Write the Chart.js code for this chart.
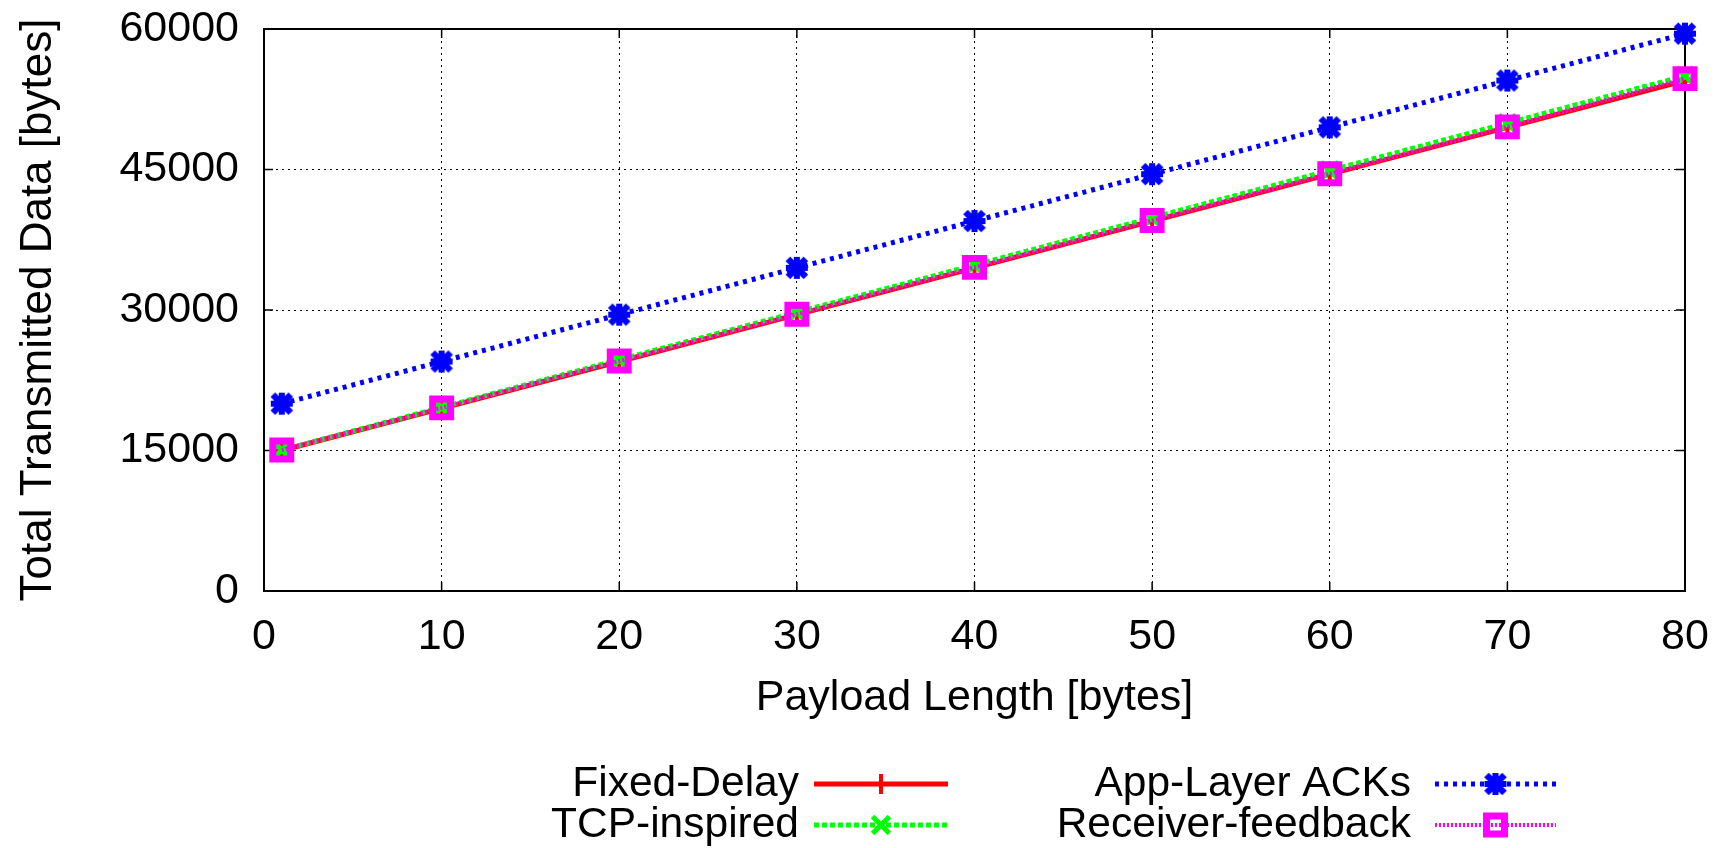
<!DOCTYPE html>
<html><head><meta charset="utf-8">
<script src="https://cdn.jsdelivr.net/npm/chart.js@4"></script>
<style>html,body{margin:0;padding:0;background:#fff}#wrap{width:1724px;height:848px;position:relative}</style>
</head><body><div id="wrap"><canvas id="c" width="1724" height="848"></canvas></div>
<script>
const payloadLength = [1, 10, 20, 30, 40, 50, 60, 70, 80];
const fixedDelay = [15000, 19500, 24500, 29500, 34500, 39500, 44500, 49500, 54500];
const tcpInspired = [15050, 19600, 24700, 29750, 34800, 39850, 44900, 49950, 55000];
const appLayerAcks = [20000, 24500, 29500, 34500, 39500, 44500, 49500, 54500, 59500];
const receiverFeedback = [15050, 19550, 24550, 29550, 34550, 39550, 44550, 49550, 54700];
const xTicks = [0, 10, 20, 30, 40, 50, 60, 70, 80];
const yTicks = [0, 15000, 30000, 45000, 60000];
const seriesNames = ['Fixed-Delay', 'TCP-inspired', 'App-Layer ACKs', 'Receiver-feedback'];

const FONT = "'Liberation Sans', Arial, Helvetica, sans-serif";
const FS = 43;

// gnuplot-like "star" marker (+ overlaid with x)
function makeStar(color) {
  const c = document.createElement('canvas');
  c.width = 32; c.height = 32;
  const g = c.getContext('2d');
  g.strokeStyle = color;
  g.lineCap = 'butt';
  g.lineWidth = 6;
  g.beginPath();
  g.moveTo(16 - 11, 16); g.lineTo(16 + 11, 16);
  g.moveTo(16, 16 - 11); g.lineTo(16, 16 + 11);
  g.stroke();
  g.lineWidth = 6.5;
  g.beginPath();
  g.moveTo(16 - 9, 16 - 9); g.lineTo(16 + 9, 16 + 9);
  g.moveTo(16 - 9, 16 + 9); g.lineTo(16 + 9, 16 - 9);
  g.stroke();
  return c;
}
const starImg = makeStar('#0000ff');

const styles = [
  {color: '#ff0000', dash: [], width: 5, marker: 'cross', r: 10, mw: 4},
  {color: '#00ff00', dash: [5, 3], width: 5, marker: 'crossRot', r: 12, mw: 5},
  {color: '#0000ff', dash: [4, 5], width: 5, marker: starImg, r: 11, mw: 5},
  {color: '#ff00ff', dash: [2, 2], width: 4, marker: 'rect', r: 12.7, mw: 7}
];
const seriesData = [fixedDelay, tcpInspired, appLayerAcks, receiverFeedback];

function pts(arr) { return payloadLength.map((x, i) => ({x: x, y: arr[i]})); }

function drawMarker(ctx, type, x, y, r, color, w) {
  ctx.save();
  if (typeof type !== 'string') {
    ctx.drawImage(type, x - type.width / 2, y - type.height / 2);
    ctx.restore();
    return;
  }
  ctx.strokeStyle = color; ctx.lineWidth = w; ctx.setLineDash([]);
  ctx.beginPath();
  if (type === 'cross') {
    ctx.moveTo(x - r, y); ctx.lineTo(x + r, y);
    ctx.moveTo(x, y - r); ctx.lineTo(x, y + r);
  }
  if (type === 'crossRot') {
    const d = r * Math.SQRT1_2;
    ctx.moveTo(x - d, y - d); ctx.lineTo(x + d, y + d);
    ctx.moveTo(x - d, y + d); ctx.lineTo(x + d, y - d);
  }
  if (type === 'rect') {
    const s = r * Math.SQRT1_2;
    ctx.rect(x - s, y - s, 2 * s, 2 * s);
  }
  ctx.stroke();
  ctx.restore();
}

const framePlugin = {
  id: 'frame',
  beforeDatasetsDraw(chart) {
    const {ctx, chartArea: a, scales} = chart;
    ctx.save();
    ctx.strokeStyle = '#000'; ctx.lineWidth = 2; ctx.setLineDash([]);
    ctx.strokeRect(a.left, a.top, a.right - a.left, a.bottom - a.top);
    ctx.lineWidth = 1.5;
    ctx.beginPath();
    const tl = 9;
    xTicks.forEach(v => {
      const px = scales.x.getPixelForValue(v);
      ctx.moveTo(px, a.bottom); ctx.lineTo(px, a.bottom - tl);
      ctx.moveTo(px, a.top); ctx.lineTo(px, a.top + tl);
    });
    yTicks.forEach(v => {
      const py = scales.y.getPixelForValue(v);
      ctx.moveTo(a.left, py); ctx.lineTo(a.left + tl, py);
      ctx.moveTo(a.right, py); ctx.lineTo(a.right - tl, py);
    });
    ctx.stroke();
    ctx.restore();
  },
  afterDraw(chart) {
    const ctx = chart.ctx;
    const cols = [{textRight: 799, x0: 814, x1: 948}, {textRight: 1411, x0: 1435, x1: 1556}];
    const rows = [784, 825];
    const layout = [[0, 0, 0], [1, 0, 1], [2, 1, 0], [3, 1, 1]];
    ctx.save();
    ctx.font = '42.5px ' + FONT;
    ctx.fillStyle = '#000';
    ctx.textAlign = 'right';
    ctx.textBaseline = 'middle';
    layout.forEach(([si, ci, ri]) => {
      const c = cols[ci], y = rows[ri], st = styles[si];
      ctx.fillText(seriesNames[si], c.textRight, y);
      ctx.save();
      ctx.strokeStyle = st.color; ctx.lineWidth = st.width; ctx.setLineDash(st.dash);
      ctx.beginPath(); ctx.moveTo(c.x0, y); ctx.lineTo(c.x1, y); ctx.stroke();
      ctx.restore();
      drawMarker(ctx, st.marker, (c.x0 + c.x1) / 2, y, st.r, st.color, st.mw);
    });
    ctx.restore();
  }
};

const datasets = seriesData.map((arr, i) => ({
  label: seriesNames[i],
  data: pts(arr),
  borderColor: styles[i].color,
  backgroundColor: 'rgba(0,0,0,0)',
  borderWidth: styles[i].width,
  borderDash: styles[i].dash,
  pointStyle: styles[i].marker,
  pointRadius: styles[i].r,
  pointBorderWidth: styles[i].mw,
  pointBorderColor: styles[i].color,
  pointBackgroundColor: 'rgba(0,0,0,0)',
  tension: 0,
  fill: false,
  clip: false,
  order: 4 - i
}));

new Chart(document.getElementById('c'), {
  type: 'line',
  data: {datasets: datasets},
  options: {
    responsive: false,
    animation: false,
    devicePixelRatio: 1,
    layout: {padding: {top: 29, right: 39, bottom: 120, left: 0}},
    plugins: {legend: {display: false}, tooltip: {enabled: false}},
    scales: {
      x: {
        type: 'linear', min: 0, max: 80,
        afterBuildTicks: s => { s.ticks = xTicks.map(v => ({value: v})); },
        afterFit: s => { s.height = 137; s.paddingLeft = 0; s.paddingRight = 0; },
        grid: {color: '#000', lineWidth: 1, drawTicks: false},
        border: {display: false, dash: [2, 4]},
        ticks: {color: '#000', font: {family: FONT, size: FS}, padding: 20, maxRotation: 0, autoSkip: false},
        title: {display: true, text: 'Payload Length [bytes]', color: '#000', font: {family: FONT, size: FS}, padding: {top: 0, bottom: 4}}
      },
      y: {
        type: 'linear', min: 0, max: 60000,
        afterBuildTicks: s => { s.ticks = yTicks.map(v => ({value: v})); },
        afterFit: s => { s.width = 264; s.paddingTop = 0; s.paddingBottom = 0; },
        grid: {color: '#000', lineWidth: 1, drawTicks: false},
        border: {display: false, dash: [2, 4]},
        ticks: {color: '#000', font: {family: FONT, size: FS}, padding: 25, callback: v => String(v)},
        title: {display: true, text: 'Total Transmitted Data [bytes]', color: '#000', font: {family: FONT, size: 44}, padding: {top: 12, bottom: 0}}
      }
    }
  },
  plugins: [framePlugin]
});
</script>
</body></html>
